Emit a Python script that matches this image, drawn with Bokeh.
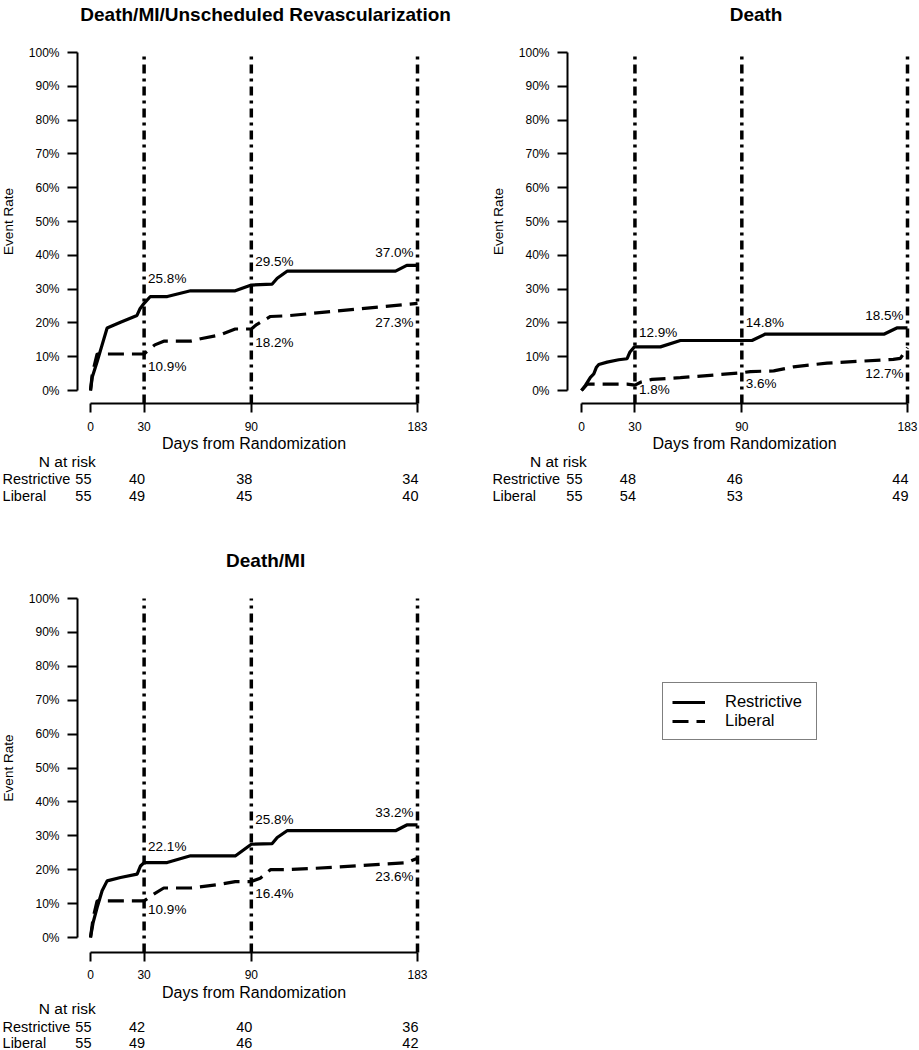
from bokeh.plotting import figure
from bokeh.models import (Range1d, LinearAxis, FixedTicker, NumeralTickFormatter,
                          Legend, LegendItem)
from bokeh.layouts import column, row
from bokeh.core.properties import value
from bokeh.embed import file_html
from bokeh.resources import INLINE

FONT = "Liberation Sans"

# ---------------- data ----------------
milestone_days = [0, 30, 90, 183]
line_days = [30, 90, 183]

# Panel 1: Death/MI/Unscheduled Revascularization
p1_title = "Death/MI/Unscheduled Revascularization"
p1_r_days = [0, 1, 3.7, 6.5, 9.3, 16.8, 26, 27.6, 30, 33.5, 43, 56, 81, 90, 101.7, 104.5, 110, 170.7, 177, 183]
p1_r_rate = [0, 4, 8.5, 13.5, 18.5, 20.2, 22.2, 24.1, 25.8, 27.8, 27.8, 29.5, 29.5, 31.2, 31.5, 33.2, 35.3, 35.3, 37.0, 37.0]
p1_l_days = [0, 1, 3.7, 30, 31.5, 36, 41, 56, 61.6, 72.8, 81, 90, 93, 100.7, 110, 183]
p1_l_rate = [0, 5, 10.8, 10.8, 11.5, 13.5, 14.6, 14.6, 15.3, 16.5, 18.2, 18.2, 19.5, 21.9, 22.1, 25.8]
p1_r_labels = ["25.8%", "29.5%", "37.0%"]
p1_l_labels = ["10.9%", "18.2%", "27.3%"]
p1_r_label_y = [33.1, 38.2, 40.8]
p1_l_label_y = [7.1, 14.2, 20.1]
p1_risk_r = [55, 40, 38, 34]
p1_risk_l = [55, 49, 45, 40]

# Panel 2: Death
p2_title = "Death"
p2_r_days = [0, 2.2, 5, 6.9, 8.4, 9.7, 14.4, 20.9, 25.6, 27.1, 29.7, 44.3, 55.5, 95.7, 103.2, 170, 177, 183]
p2_r_rate = [0, 1.5, 3.9, 4.9, 6.9, 7.7, 8.4, 9.1, 9.4, 11.3, 12.9, 12.9, 14.8, 14.8, 16.7, 16.7, 18.5, 18.5]
p2_l_days = [0, 3.2, 25.6, 30, 33.5, 39.6, 55.5, 89, 94.8, 107.9, 119, 137.8, 175, 179, 183]
p2_l_rate = [0, 1.9, 1.9, 1.6, 2.5, 3.3, 3.8, 5.2, 5.6, 5.8, 7.0, 8.1, 9.2, 9.5, 12.7]
p2_r_labels = ["12.9%", "14.8%", "18.5%"]
p2_l_labels = ["1.8%", "3.6%", "12.7%"]
p2_r_label_y = [17.2, 20.1, 22.2]
p2_l_label_y = [0.3, 2.1, 5.0]
p2_risk_r = [55, 48, 46, 44]
p2_risk_l = [55, 54, 53, 49]

# Panel 3: Death/MI
p3_title = "Death/MI"
p3_r_days = [0, 1.5, 3.7, 6.5, 9.3, 16.8, 26.1, 28, 30, 42.9, 56, 81.2, 90, 101.7, 104.5, 110, 170.7, 177, 183]
p3_r_rate = [0, 4.5, 8.8, 13.8, 16.7, 17.7, 18.7, 21.1, 22.1, 22.1, 24.1, 24.1, 27.5, 27.7, 29.5, 31.5, 31.5, 33.2, 33.2]
p3_l_days = [0, 1.5, 3.7, 30, 35.4, 41, 56, 72.8, 81, 90, 95, 100.7, 110, 136, 177, 183]
p3_l_rate = [0, 5.9, 10.8, 10.8, 12.8, 14.6, 14.6, 15.7, 16.5, 16.5, 17.5, 20.0, 20.0, 20.7, 22.1, 23.4]
p3_r_labels = ["22.1%", "25.8%", "33.2%"]
p3_l_labels = ["10.9%", "16.4%", "23.6%"]
p3_r_label_y = [26.8, 34.8, 36.9]
p3_l_label_y = [8.3, 13.0, 18.0]
p3_risk_r = [55, 42, 40, 36]
p3_risk_l = [55, 49, 46, 42]

group_names = ["Restrictive", "Liberal"]
y_ticks = [0, 10, 20, 30, 40, 50, 60, 70, 80, 90, 100]


def make_panel(title, r_days, r_rate, l_days, l_rate, r_labels, l_labels,
               r_label_y, l_label_y, risk_r, risk_l,
               W, H, x0, ppd, y0, ppu, yaxis_day, xaxis_y, rowlab_day):
    p = figure(width=W, height=H,
               x_range=Range1d(-x0 / ppd, (W - x0) / ppd),
               y_range=Range1d((y0 - H) / ppu, y0 / ppu),
               x_axis_type=None, y_axis_type=None,
               toolbar_location=None, output_backend="svg",
               min_border=0, outline_line_color=None)
    p.background_fill_color = "white"

    # axes
    yax = LinearAxis(fixed_location=yaxis_day, bounds=(0, 1),
                     ticker=FixedTicker(ticks=[t / 100 for t in y_ticks]),
                     formatter=NumeralTickFormatter(format="0%"))
    yax.axis_line_width = 2
    yax.major_tick_line_width = 2
    yax.major_tick_out = 10
    yax.major_tick_in = 0
    yax.minor_tick_line_color = None
    yax.major_label_text_font = FONT
    yax.major_label_text_font_size = "12px"
    yax.major_label_text_color = "black"
    yax.major_label_standoff = 8
    yax.axis_label = "Event Rate"
    yax.axis_label_text_font = FONT
    yax.axis_label_text_font_style = "normal"
    yax.axis_label_text_font_size = "13.5px"
    yax.axis_label_text_color = "black"
    yax.axis_label_standoff = 10
    p.add_layout(yax, "left")

    xax = LinearAxis(fixed_location=xaxis_y, bounds=(0, 183),
                     ticker=FixedTicker(ticks=milestone_days))
    xax.axis_line_width = 2
    xax.major_tick_line_width = 2
    xax.major_tick_out = 9
    xax.major_tick_in = 0
    xax.minor_tick_line_color = None
    xax.major_label_text_font = FONT
    xax.major_label_text_font_size = "12px"
    xax.major_label_text_color = "black"
    xax.major_label_standoff = 9
    xax.axis_label = "Days from Randomization"
    xax.axis_label_text_font = FONT
    xax.axis_label_text_font_style = "normal"
    xax.axis_label_text_font_size = "16px"
    xax.axis_label_text_color = "black"
    xax.axis_label_standoff = 1
    p.add_layout(xax, "below")

    # vertical milestone lines
    p.segment(x0=line_days, y0=[xaxis_y] * len(line_days),
              x1=line_days, y1=[1.0] * len(line_days),
              line_color="black", line_width=3.5, line_dash="9 5 3 5")

    # curves
    r_line = p.line(r_days, [v / 100 for v in r_rate],
                    line_color="black", line_width=3.2)
    l_line = p.line(l_days, [v / 100 for v in l_rate],
                    line_color="black", line_width=3.2, line_dash="16 8")

    # percentage labels (30 and 90 on the right of the line, 183 on the left)
    for labels, ys in ((r_labels, r_label_y), (l_labels, l_label_y)):
        p.text(x=line_days[:2], y=[v / 100 for v in ys[:2]], text=labels[:2],
               text_align="left", text_baseline="middle", x_offset=4,
               text_font=value(FONT), text_font_size="13.5px", text_color="black")
        p.text(x=line_days[2:], y=[v / 100 for v in ys[2:]], text=labels[2:],
               text_align="right", text_baseline="middle", x_offset=-4,
               text_font=value(FONT), text_font_size="13.5px", text_color="black")

    # title
    p.text(x=[98], y=[1.112], text=[title], text_align="center",
           text_baseline="middle", text_font=value(FONT),
           text_font_size="19px", text_font_style="bold", text_color="black")

    # N at risk table
    p.text(x=[-13], y=[-0.21], text=["N at risk"], text_align="center",
           text_baseline="middle", text_font=value(FONT),
           text_font_size="15.5px", text_color="black")
    p.text(x=[rowlab_day, rowlab_day], y=[-0.263, -0.311], text=group_names,
           text_align="left", text_baseline="middle", text_font=value(FONT),
           text_font_size="14.5px", text_color="black")
    p.text(x=milestone_days, y=[-0.263] * 4, text=[str(v) for v in risk_r],
           text_align="right", text_baseline="middle", x_offset=1,
           text_font=value(FONT), text_font_size="14.5px", text_color="black")
    p.text(x=milestone_days, y=[-0.311] * 4, text=[str(v) for v in risk_l],
           text_align="right", text_baseline="middle", x_offset=1,
           text_font=value(FONT), text_font_size="14.5px", text_color="black")
    return p, r_line, l_line


p1, _, _ = make_panel(p1_title, p1_r_days, p1_r_rate, p1_l_days, p1_l_rate,
                      p1_r_labels, p1_l_labels, p1_r_label_y, p1_l_label_y,
                      p1_risk_r, p1_risk_l,
                      W=460, H=525, x0=90, ppd=327 / 183, y0=390, ppu=338,
                      yaxis_day=-7.28, xaxis_y=-0.0385, rowlab_day=-49.2)
p2, _, _ = make_panel(p2_title, p2_r_days, p2_r_rate, p2_l_days, p2_l_rate,
                      p2_r_labels, p2_l_labels, p2_r_label_y, p2_l_label_y,
                      p2_risk_r, p2_risk_l,
                      W=459, H=525, x0=121, ppd=326 / 183, y0=390, ppu=338,
                      yaxis_day=-7.86, xaxis_y=-0.0385, rowlab_day=-49.96)
p3, r3, l3 = make_panel(p3_title, p3_r_days, p3_r_rate, p3_l_days, p3_l_rate,
                        p3_r_labels, p3_l_labels, p3_r_label_y, p3_l_label_y,
                        p3_risk_r, p3_risk_l,
                        W=919, H=525, x0=90, ppd=327 / 183, y0=412, ppu=339,
                        yaxis_day=-7.28, xaxis_y=-0.0442, rowlab_day=-49.2)

# legend (in the empty lower-right area of the bottom figure)
leg = Legend(items=[LegendItem(label=group_names[0], renderers=[r3]),
                    LegendItem(label=group_names[1], renderers=[l3])],
             location=(662, 310))
leg.border_line_color = "black"
leg.border_line_width = 1.5
leg.padding = 9
leg.margin = 0
leg.spacing = 0
leg.glyph_width = 33
leg.glyph_height = 18
leg.label_height = 18
leg.label_width = 82
leg.label_standoff = 20
leg.label_text_font = FONT
leg.label_text_font_size = "16.5px"
leg.label_text_color = "black"
leg.background_fill_alpha = 1
p3.add_layout(leg)

layout = column(row(p1, p2, spacing=0), p3, spacing=0)

open("out.html", "w").write(file_html(layout, INLINE))
